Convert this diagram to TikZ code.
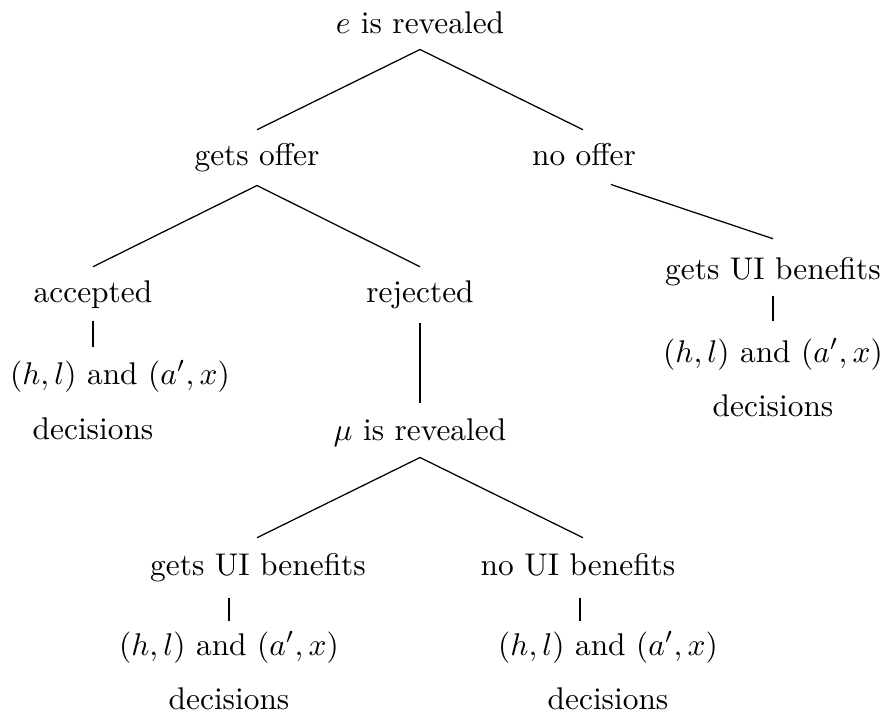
\documentclass[tikz,border=0pt]{standalone}
\usetikzlibrary{calc}
\begin{document}
\begin{tikzpicture}[x=0.3187pt,y=-0.3187pt,
  tx/.style={inner sep=0pt,text height=7pt,text depth=2pt,anchor=base},
  edge/.style={line width=0.4pt}]
\useasboundingbox (0,0) rectangle (885,717);
\node[tx] (root) at (420,34) {$e$ is revealed};
\node[tx] (goff) at (257,166) {gets offer};
\node[tx] (noff) at (584,166) {no offer};
\node[tx] (acc) at (93,302) {accepted};
\node[tx] (rej) at (420,302) {rejected};
\node[tx] (guiR) at (773,279) {gets UI benefits};
\node[tx] (hlR) at (773,362) {$(h,l)$ and $(a',x)$};
\node[tx] (decR) at (773,416) {decisions};
\node[tx] (hlA) at (120,384) {$(h,l)$ and $(a',x)$};
\node[tx] (decA) at (93,439) {decisions};
\node[tx] (mu) at (420,440) {$\mu$ is revealed};
\node[tx] (guiB) at (258,575) {gets UI benefits};
\node[tx] (nui) at (578,575) {no UI benefits};
\node[tx] (hlB) at (229,655) {$(h,l)$ and $(a',x)$};
\node[tx] (hlC) at (608,655) {$(h,l)$ and $(a',x)$};
\node[tx] (decB) at (229,709) {decisions};
\node[tx] (decC) at (608,709) {decisions};
\draw[edge] ($(root.south)+(0,8.6)$) -- ($(goff.north)+(0,-13.7)$);
\draw[edge] ($(root.south)+(0,8.6)$) -- ($(noff.north)+(-1,-13.7)$);
\draw[edge] ($(goff.south)+(0,12.6)$) -- ($(acc.north)+(0,-12.7)$);
\draw[edge] ($(goff.south)+(0,12.6)$) -- ($(rej.north)+(0,-12.7)$);
\draw[edge] ($(noff.south)+(27,11.6)$) -- ($(guiR.north)+(0,-17.7)$);
\draw[edge] ($(guiR.south)+(0,9.6)$) -- ($(hlR.north)+(0,-18.7)$);
\draw[edge] ($(acc.south)+(0,11.6)$) -- ($(hlA.north)+(-27,-14.7)$);
\draw[edge] ($(rej.south)+(0,13.6)$) -- ($(mu.north)+(0,-14.7)$);
\draw[edge] ($(mu.south)+(0,10.6)$) -- ($(guiB.north)+(-1,-14.7)$);
\draw[edge] ($(mu.south)+(0,10.6)$) -- ($(nui.north)+(5,-14.7)$);
\draw[edge] ($(guiB.south)+(-29,15.6)$) -- ($(hlB.north)+(0,-11.7)$);
\draw[edge] ($(nui.south)+(2,15.6)$) -- ($(hlC.north)+(-28,-11.7)$);
\end{tikzpicture}
\end{document}
